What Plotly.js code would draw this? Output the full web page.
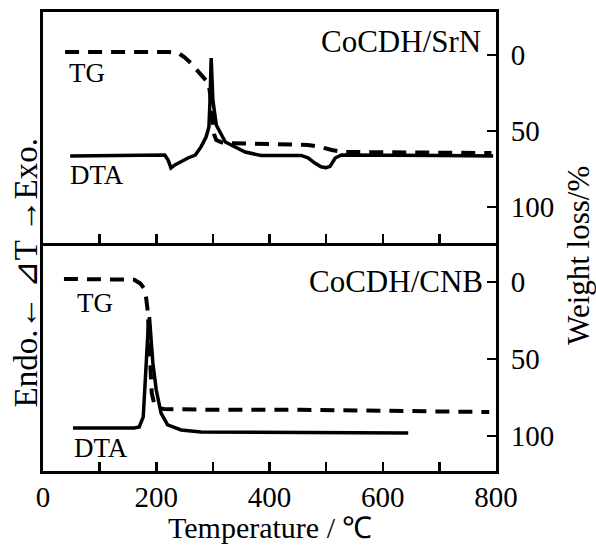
<!DOCTYPE html>
<html>
<head>
<meta charset="utf-8">
<script src="https://cdn.plot.ly/plotly-3.0.1.min.js"></script>
<style>html,body{margin:0;padding:0;background:#fff;}</style>
</head>
<body>
<div id="chart" style="width:596px;height:547px;"></div>
<script>
// ---- Data ----
// Top panel: CoCDH/SrN
const srnTG_T = [39, 120, 221, 239, 250, 261, 279, 292, 295, 299, 302, 306, 315, 330, 360, 420, 468, 490, 510, 530, 600, 700, 792];
const srnTG_W = [-2, -2, -2, -1.3, 1.5, 5.3, 13.2, 18.4, 25, 40, 52, 56, 57.5, 58, 58.3, 58.8, 59.2, 60.5, 62.5, 63.8, 64, 64.2, 64.5];
const srnDTA_T = [48, 150, 215, 221, 226, 233, 242, 256, 269, 279, 288, 293, 295, 297, 300, 306, 322, 332, 357, 385, 456, 468, 480, 491, 500, 507, 516, 527, 600, 700, 795];
const srnDTA_V = [37.7, 37.9, 38.1, 35.9, 32.5, 33.8, 35.1, 36.8, 38.1, 41.6, 45.9, 50.2, 61.9, 80.1, 61.9, 51.1, 43.7, 42.4, 39.4, 37.9, 37.9, 36.9, 34.6, 33.0, 32.6, 33.2, 36.8, 38.1, 38.1, 37.9, 37.7];
// Bottom panel: CoCDH/CNB
const cnbTG_T = [37, 100, 161, 172, 178, 182, 185, 187, 189, 192, 197, 205, 214, 300, 456, 600, 700, 788];
const cnbTG_W = [-2, -2, -1.5, 1, 4, 10, 19, 35, 55, 72, 80, 82, 82.5, 83, 83, 83.8, 84, 84.4];
const cnbDTA_T = [53, 161, 170, 177, 179, 182, 185.5, 188, 191, 194, 200, 208.5, 220, 244, 279, 456, 645];
const cnbDTA_V = [18.9, 18.9, 19.3, 23.7, 32.5, 47.4, 61.8, 67.5, 57.5, 47.4, 35.5, 25.4, 20.2, 18.0, 17.1, 16.9, 16.7];

const xTicks = [0, 200, 400, 600, 800];
const wTicks = [0, 50, 100];

const FONT = 'Liberation Serif';
const BLACK = '#000';

const solid = {color: BLACK, width: 3.5};
const dashed = {color: BLACK, width: 4, dash: '14px,9px'};

const traces = [
  {x: srnDTA_T, y: srnDTA_V, xaxis: 'x2', yaxis: 'y3', mode: 'lines', line: solid, hoverinfo: 'skip'},
  {x: srnTG_T, y: srnTG_W, xaxis: 'x2', yaxis: 'y4', mode: 'lines', line: dashed, hoverinfo: 'skip'},
  {x: cnbDTA_T, y: cnbDTA_V, xaxis: 'x', yaxis: 'y', mode: 'lines', line: solid, hoverinfo: 'skip'},
  {x: cnbTG_T, y: cnbTG_W, xaxis: 'x', yaxis: 'y2', mode: 'lines', line: dashed, hoverinfo: 'skip'}
];

const split = 0.4967;
const xCommon = {
  range: [0, 800], showgrid: false, zeroline: false,
  showline: true, linecolor: BLACK, linewidth: 3,
  ticks: 'inside', ticklen: 9, tickwidth: 2.5, tickcolor: BLACK,
  tickvals: xTicks,
  minor: {dtick: 100, tick0: 0, ticks: 'inside', ticklen: 9, tickwidth: 2.5, tickcolor: BLACK, showgrid: false},
  tickfont: {family: FONT, size: 29, color: BLACK}
};
const dtaCommon = {
  range: [0, 100], showgrid: false, zeroline: false, showticklabels: false, ticks: '',
  showline: true, linecolor: BLACK, linewidth: 3
};
const tgCommon = {
  showgrid: false, zeroline: false, side: 'right',
  showline: true, linecolor: BLACK, linewidth: 3,
  ticks: 'inside', ticklen: 9, tickwidth: 2.5, tickcolor: BLACK,
  tickvals: wTicks, ticklabelstandoff: 6,
  tickfont: {family: FONT, size: 29, color: BLACK}
};

const layout = {
  width: 596, height: 547,
  margin: {l: 43, r: 100, t: 12, b: 76},
  paper_bgcolor: '#fff', plot_bgcolor: '#fff',
  showlegend: false,
  font: {family: FONT, color: BLACK},
  xaxis: Object.assign({}, xCommon, {anchor: 'y', domain: [0, 1], mirror: false, ticklabelstandoff: -2}),
  xaxis2: Object.assign({}, xCommon, {anchor: 'y3', domain: [0, 1], matches: 'x', showticklabels: false, mirror: true}),
  yaxis: Object.assign({}, dtaCommon, {domain: [0, split], anchor: 'x'}),
  yaxis2: Object.assign({}, tgCommon, {overlaying: 'y', anchor: 'x', range: [122.7, -25.3]}),
  yaxis3: Object.assign({}, dtaCommon, {domain: [split, 1], anchor: 'x2'}),
  yaxis4: Object.assign({}, tgCommon, {overlaying: 'y3', anchor: 'x2', range: [123.7, -28.3]}),
  annotations: [
    {text: 'CoCDH/SrN', xref: 'paper', yref: 'paper', x: 0.9713, y: 0.9368, xanchor: 'right', yanchor: 'middle', showarrow: false, font: {family: FONT, size: 31, color: BLACK}},
    {text: 'CoCDH/CNB', xref: 'paper', yref: 'paper', x: 0.9757, y: 0.4139, xanchor: 'right', yanchor: 'middle', showarrow: false, font: {family: FONT, size: 31, color: BLACK}},
    {text: 'TG', xref: 'paper', yref: 'paper', x: 0.053, y: 0.867, xanchor: 'left', yanchor: 'middle', showarrow: false, font: {family: FONT, size: 27, color: BLACK}},
    {text: 'DTA', xref: 'paper', yref: 'paper', x: 0.0552, y: 0.6449, xanchor: 'left', yanchor: 'middle', showarrow: false, font: {family: FONT, size: 27, color: BLACK}},
    {text: 'TG', xref: 'paper', yref: 'paper', x: 0.0706, y: 0.366, xanchor: 'left', yanchor: 'middle', showarrow: false, font: {family: FONT, size: 27, color: BLACK}},
    {text: 'DTA', xref: 'paper', yref: 'paper', x: 0.064, y: 0.0501, xanchor: 'left', yanchor: 'middle', showarrow: false, font: {family: FONT, size: 27, color: BLACK}},
    {text: 'Temperature / ℃', xref: 'paper', yref: 'paper', x: 0.5, y: -0.124, xanchor: 'center', yanchor: 'middle', showarrow: false, font: {family: FONT, size: 30, color: BLACK}},
    {text: 'Endo.← ⊿T →Exo.', xref: 'paper', yref: 'paper', x: -0.037, y: 0.431, xanchor: 'center', yanchor: 'middle', textangle: -90, showarrow: false, font: {family: FONT, size: 33, color: BLACK}},
    {text: 'Weight loss/%', xref: 'paper', yref: 'paper', x: 1.183, y: 0.4706, xanchor: 'center', yanchor: 'middle', textangle: -90, showarrow: false, font: {family: FONT, size: 31, color: BLACK}}
  ]
};

Plotly.newPlot('chart', traces, layout, {staticPlot: true, displayModeBar: false});
</script>
</body>
</html>
